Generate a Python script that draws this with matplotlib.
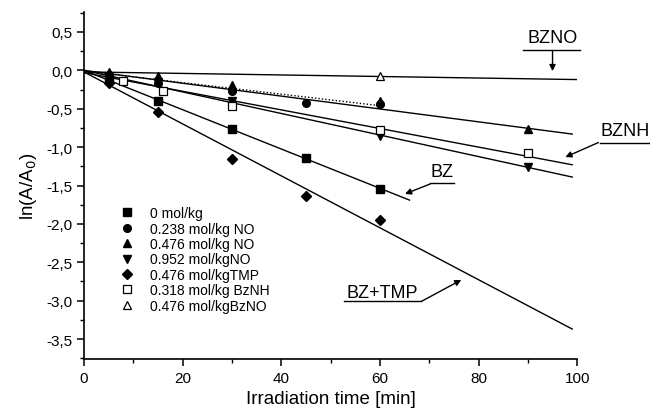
import matplotlib
matplotlib.use("Agg")
import matplotlib.pyplot as plt
from matplotlib.ticker import MultipleLocator, FuncFormatter

plt.rcParams['font.family'] = ['Liberation Sans', 'DejaVu Sans']

# Measured points: irradiation time [min] and ln(A/A0)
t_bz = [5, 15, 30, 45, 60]
y_bz = [-0.10, -0.40, -0.77, -1.14, -1.54]

t_no238 = [5, 15, 30, 45, 60]
y_no238 = [-0.06, -0.16, -0.27, -0.43, -0.44]

t_no476 = [5, 15, 30, 60, 90]
y_no476 = [-0.02, -0.07, -0.19, -0.40, -0.76]

t_no952 = [5, 15, 30, 60, 90]
y_no952 = [-0.12, -0.15, -0.40, -0.86, -1.26]

t_tmp = [5, 15, 30, 45, 60]
y_tmp = [-0.16, -0.54, -1.16, -1.64, -1.95]

t_bznh = [8, 16, 30, 60, 90]
y_bznh = [-0.14, -0.27, -0.46, -0.78, -1.08]

t_bzno = [60]
y_bzno = [-0.08]

labels = ["0 mol/kg", "0.238 mol/kg NO", "0.476 mol/kg NO", "0.952 mol/kgNO",
          "0.476 mol/kgTMP", "0.318 mol/kg BzNH", "0.476 mol/kgBzNO"]

# Linear fits: (t_start, t_end) and (y_start, y_end)
fit_bzno_t, fit_bzno_y = [0, 100], [-0.02, -0.12]
fit_no476_t, fit_no476_y = [0, 99], [0.0, -0.83]
fit_no238_t, fit_no238_y = [0, 60], [-0.01, -0.46]
fit_bznh_t, fit_bznh_y = [0, 99], [-0.03, -1.23]
fit_no952_t, fit_no952_y = [0, 99], [0.0, -1.39]
fit_bz_t, fit_bz_y = [0, 66], [0.0, -1.69]
fit_tmp_t, fit_tmp_y = [0, 99], [-0.02, -3.37]

fig = plt.figure(figsize=(6.5, 4.14), dpi=100)
ax = fig.add_axes([0.129, 0.1304, 0.759, 0.8382])

lk = dict(color='black', lw=1.0)
ax.plot(fit_bzno_t, fit_bzno_y, **lk)
ax.plot(fit_no476_t, fit_no476_y, **lk)
ax.plot(fit_no238_t, fit_no238_y, color='black', lw=1.0, ls=(0, (1, 1.5)))
ax.plot(fit_bznh_t, fit_bznh_y, **lk)
ax.plot(fit_no952_t, fit_no952_y, **lk)
ax.plot(fit_bz_t, fit_bz_y, **lk)
ax.plot(fit_tmp_t, fit_tmp_y, **lk)

ms = 5.5
h = []
h += ax.plot(t_bz, y_bz, 's', color='black', ms=ms, label=labels[0])
h += ax.plot(t_no238, y_no238, 'o', color='black', ms=ms, label=labels[1])
h += ax.plot(t_no476, y_no476, '^', color='black', ms=ms + 0.5, label=labels[2])
h += ax.plot(t_no952, y_no952, 'v', color='black', ms=ms + 0.5, label=labels[3])
h += ax.plot(t_tmp, y_tmp, 'D', color='black', ms=ms - 0.5, label=labels[4])
h += ax.plot(t_bznh, y_bznh, 's', mfc='white', mec='black', mew=0.9, ms=ms, label=labels[5])
h += ax.plot(t_bzno, y_bzno, '^', mfc='white', mec='black', mew=0.9, ms=ms + 0.5, label=labels[6])

ax.legend(handles=h, loc='upper left', bbox_to_anchor=(0.07, 0.44), frameon=False,
          fontsize=10, borderaxespad=0, borderpad=0, handlelength=1.2,
          handletextpad=1.1, labelspacing=0.1)

ax.set_xlim(0, 100)
ax.set_ylim(-3.76, 0.76)
ax.xaxis.set_major_locator(MultipleLocator(20))
ax.xaxis.set_minor_locator(MultipleLocator(10))
ax.yaxis.set_major_locator(MultipleLocator(0.5))
ax.yaxis.set_minor_locator(MultipleLocator(0.25))
ax.yaxis.set_major_formatter(FuncFormatter(lambda v, p: f"{v:.1f}".replace('.', ',').replace('-0,0', '0,0')))
ax.tick_params(which='major', direction='out', length=5, width=1.1, labelsize=11)
ax.tick_params(which='minor', direction='out', length=3, width=1.0)
for s in ('top', 'right'):
    ax.spines[s].set_visible(False)
for s in ('left', 'bottom'):
    ax.spines[s].set_linewidth(1.2)

ax.set_xlabel("Irradiation time [min]", fontsize=13.5, labelpad=4)
ax.set_ylabel("ln(A/A$_0$)", fontsize=13.5, labelpad=5)

# Curve labels with underline and arrow
def tag(text, tx, ty, ux0, ux1, uy, ax0, ay0, ax1, ay1):
    ax.text(tx, ty, text, fontsize=13, ha='center', va='center', clip_on=False)
    ax.plot([ux0, ux1], [uy, uy], color='black', lw=1.0, clip_on=False)
    ax.annotate("", xy=(ax1, ay1), xytext=(ax0, ay0),
                arrowprops=dict(arrowstyle='-|>', color='black', lw=1.0,
                                mutation_scale=9, shrinkA=0, shrinkB=0),
                annotation_clip=False)

tag("BZNO", 95.0, 0.43, 89.0, 100.6, 0.26, 95.0, 0.26, 95.0, -0.01)
tag("BZNH", 109.7, -0.79, 104.7, 114.8, -0.94, 104.3, -0.94, 97.6, -1.13)
tag("BZ", 72.6, -1.315, 70.2, 75.1, -1.47, 70.2, -1.48, 65.1, -1.61)
tag("BZ+TMP", 60.4, -2.89, 52.7, 68.4, -3.01, 68.4, -3.01, 76.5, -2.73)

fig.savefig("out.png", dpi=100)
